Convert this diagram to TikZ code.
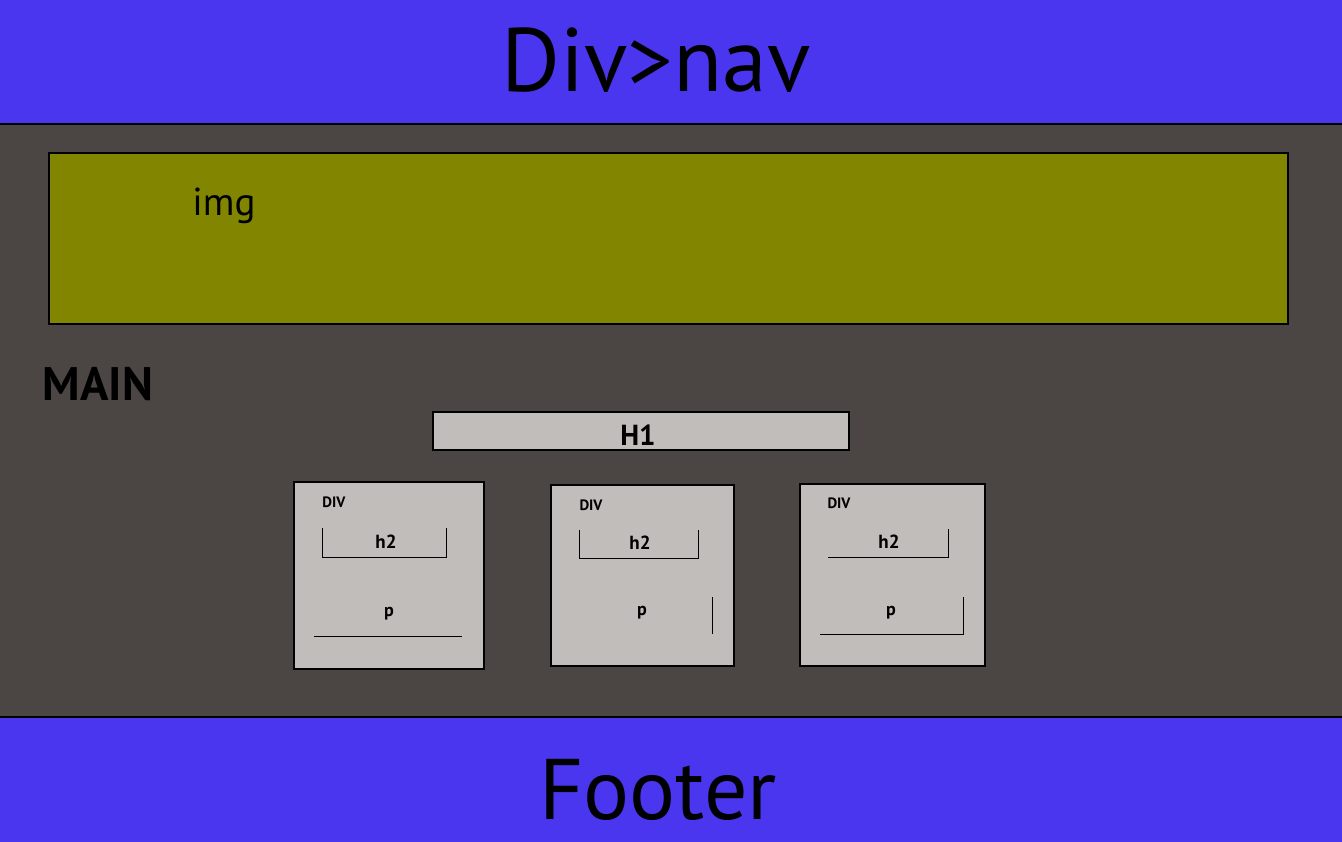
\documentclass[tikz,border=0pt]{standalone}
\usepackage{fontspec}
\setmainfont{PT Sans}
\definecolor{navblue}{HTML}{4A36EF}
\definecolor{maingray}{HTML}{4B4644}
\definecolor{imgolive}{HTML}{818500}
\definecolor{boxgray}{HTML}{C1BDBA}
\tikzset{
  band/.style={fill=navblue},
  panel/.style={fill=boxgray, draw=black, line width=1.2pt},
  guideline/.style={draw=black, line width=1pt},
  divlabel/.style={font=\bfseries\fontsize{15}{15}\selectfont, inner sep=0pt},
  sublabel/.style={font=\bfseries\fontsize{19}{19}\selectfont, inner sep=0pt},
  plabel/.style={font=\bfseries\fontsize{18}{18}\selectfont, inner sep=0pt},
}
\begin{document}
\begin{tikzpicture}[x=1pt,y=-1pt]
\useasboundingbox (0,0) rectangle (1342,842);
% background
\fill[maingray] (0,0) rectangle (1342,842);
\fill[band] (0,0) rectangle (1342,124);
\fill[band] (0,717) rectangle (1342,842);
\draw[line width=1.5pt] (0,124) -- (1342,124);
\draw[line width=1.5pt] (0,717) -- (1342,717);
\node[font=\fontsize{90}{90}\selectfont, inner sep=0pt] (nav) at (656,60) {Div>nav};
\node[font=\fontsize{86}{86}\selectfont, inner sep=0pt] (footer) at (658,790) {Footer};
% img
\draw[fill=imgolive, line width=1.5pt] (49,153) rectangle (1288,324);
\node[font=\fontsize{39}{39}\selectfont, inner sep=0pt] (img) at (224,206) {img};
% main
\node[font=\bfseries\fontsize{47}{47}\selectfont, inner sep=0pt] (main) at (98,384) {MAIN};
% H1
\draw[panel] (433,412) rectangle (849,450);
\node[font=\bfseries\fontsize{29}{29}\selectfont, inner sep=0pt] (h1) at (638,435) {H1};
% box 1
\draw[panel] (294,482) rectangle (484,669);
\node[divlabel] (div1) at (334,502) {DIV};
\draw[guideline] (322,528) -- (322,557) -- (446,557) -- (446,528);
\node[sublabel] (h2a) at (386,542) {h2};
\node[plabel] (p1) at (389,614) {p};
\draw[guideline] (314,636) -- (462,636);
% box 2
\draw[panel] (551,485) rectangle (734,666);
\node[divlabel] (div2) at (591,505) {DIV};
\draw[guideline] (579,530) -- (579,558) -- (698,558) -- (698,530);
\node[sublabel] (h2b) at (640,543) {h2};
\node[plabel] (p2) at (642,613) {p};
\draw[guideline] (712,597) -- (712,634);
% box 3
\draw[panel] (800,484) rectangle (985,666);
\node[divlabel] (div3) at (839,503) {DIV};
\draw[guideline] (828,557) -- (948,557) -- (948,529);
\node[sublabel] (h2c) at (889,542) {h2};
\node[plabel] (p3) at (891,613) {p};
\draw[guideline] (820,634) -- (963,634) -- (963,597);
\end{tikzpicture}
\end{document}
